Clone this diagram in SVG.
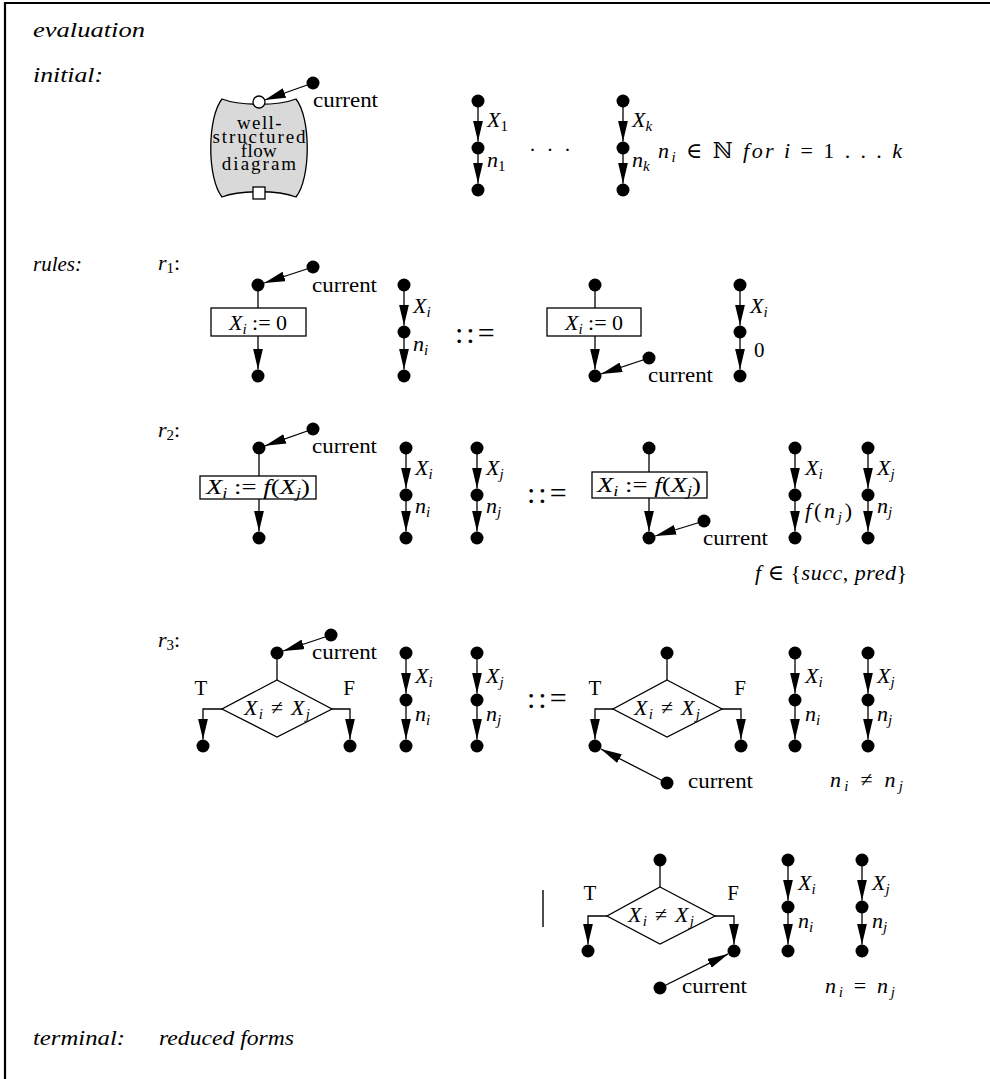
<svg xmlns="http://www.w3.org/2000/svg" width="990" height="1079" viewBox="0 0 990 1079">
<defs>
<style>
.m{font-family:"Liberation Serif","DejaVu Serif",serif;font-style:italic;font-size:22px;fill:#000}
.r{font-family:"Liberation Serif","DejaVu Serif",serif;font-size:21px;fill:#000}
.bl{font-family:"Liberation Serif","DejaVu Serif",serif;font-size:19px;fill:#000}
.eq{font-family:"Liberation Serif","DejaVu Serif",serif;font-size:30px;letter-spacing:3px;fill:#000}
.sb{font-size:15px}
.up{font-style:normal}
.ln{stroke:#000;stroke-width:1.3;fill:none}
.ar{stroke:#000;stroke-width:1.3;fill:none;marker-end:url(#ah)}
.dot{fill:#000}
.box{fill:#fff;stroke:#000;stroke-width:1.3}
</style>
<marker id="ah" viewBox="-21 -5 21 10" refX="0" refY="0" markerWidth="21" markerHeight="10" markerUnits="userSpaceOnUse" orient="auto"><path d="M0,0 L-21,-5 L-21,5 Z" fill="#000"/></marker>
</defs>
<rect width="990" height="1079" fill="#fff"/>
<path d="M5,1079 V3 H990" fill="none" stroke="#000" stroke-width="2.2"/>

<g id="labels">
<text class="m" x="33" y="37" textLength="112" lengthAdjust="spacingAndGlyphs">evaluation</text>
<text class="m" x="33" y="82" textLength="70" lengthAdjust="spacingAndGlyphs">initial:</text>
<text class="m" x="33" y="271" textLength="49" lengthAdjust="spacingAndGlyphs">rules:</text>
<text class="m" x="33" y="1045" textLength="92" lengthAdjust="spacingAndGlyphs">terminal:</text>
<text class="m" x="159" y="1045" textLength="135" lengthAdjust="spacingAndGlyphs">reduced forms</text>
<text class="m" x="158" y="270">r<tspan class="sb up" dy="3">1</tspan><tspan class="up" dy="-3">:</tspan></text>
<text class="m" x="158" y="437">r<tspan class="sb up" dy="3">2</tspan><tspan class="up" dy="-3">:</tspan></text>
<text class="m" x="158" y="647">r<tspan class="sb up" dy="3">3</tspan><tspan class="up" dy="-3">:</tspan></text>
</g>

<g id="connectors">
<line class="ar" x1="313" y1="83" x2="264.7" y2="100"/>
<line class="ar" x1="478" y1="101" x2="478" y2="141.5"/>
<line class="ar" x1="478" y1="148" x2="478" y2="183.5"/>
<line class="ar" x1="623" y1="101" x2="623" y2="141.5"/>
<line class="ar" x1="623" y1="148" x2="623" y2="183.5"/>
<line class="ar" x1="313" y1="267" x2="264.2" y2="283"/>
<line class="ln" x1="258" y1="285" x2="258" y2="308"/>
<line class="ar" x1="258" y1="336" x2="258" y2="369.5"/>
<line class="ar" x1="404" y1="285" x2="404" y2="325.5"/>
<line class="ar" x1="404" y1="332" x2="404" y2="369.5"/>
<line class="ln" x1="595" y1="285" x2="595" y2="308"/>
<line class="ar" x1="595" y1="336" x2="595" y2="369.5"/>
<line class="ar" x1="649" y1="358" x2="601.2" y2="373.9"/>
<line class="ar" x1="740" y1="285" x2="740" y2="325.5"/>
<line class="ar" x1="740" y1="332" x2="740" y2="369.5"/>
<line class="ar" x1="313" y1="429" x2="265.1" y2="445.8"/>
<line class="ln" x1="259" y1="448" x2="259" y2="476"/>
<line class="ar" x1="259" y1="499" x2="259" y2="531.5"/>
<line class="ar" x1="406" y1="448" x2="406" y2="488.5"/>
<line class="ar" x1="406" y1="495" x2="406" y2="531.5"/>
<line class="ar" x1="477" y1="448" x2="477" y2="488.5"/>
<line class="ar" x1="477" y1="495" x2="477" y2="531.5"/>
<line class="ln" x1="649" y1="448" x2="649" y2="472"/>
<line class="ar" x1="649" y1="498" x2="649" y2="531.5"/>
<line class="ar" x1="704" y1="521" x2="655.2" y2="536"/>
<line class="ar" x1="795" y1="448" x2="795" y2="488.5"/>
<line class="ar" x1="795" y1="495" x2="795" y2="531.5"/>
<line class="ar" x1="868" y1="448" x2="868" y2="488.5"/>
<line class="ar" x1="868" y1="495" x2="868" y2="531.5"/>
<line class="ar" x1="331" y1="635" x2="283.2" y2="651"/>
<line class="ln" x1="277" y1="653" x2="277" y2="680"/>
<polyline class="ar" points="222,709 203,709 203,739.5"/>
<polyline class="ar" points="332,709 350,709 350,739.5"/>
<line class="ar" x1="406" y1="653" x2="406" y2="693.5"/>
<line class="ar" x1="406" y1="700" x2="406" y2="739.5"/>
<line class="ar" x1="477" y1="653" x2="477" y2="693.5"/>
<line class="ar" x1="477" y1="700" x2="477" y2="739.5"/>
<line class="ln" x1="667" y1="653" x2="667" y2="680"/>
<polyline class="ar" points="613,709 595,709 595,739.5"/>
<polyline class="ar" points="722,709 741,709 741,739.5"/>
<line class="ar" x1="667" y1="783" x2="600.8" y2="749"/>
<line class="ar" x1="795" y1="653" x2="795" y2="693.5"/>
<line class="ar" x1="795" y1="700" x2="795" y2="739.5"/>
<line class="ar" x1="868" y1="653" x2="868" y2="693.5"/>
<line class="ar" x1="868" y1="700" x2="868" y2="739.5"/>
<line class="ln" x1="660" y1="860" x2="660" y2="887"/>
<polyline class="ar" points="607,916 588,916 588,944.5"/>
<polyline class="ar" points="715,916 734,916 734,944.5"/>
<line class="ar" x1="660" y1="988" x2="728.2" y2="953.9"/>
<line class="ar" x1="788" y1="860" x2="788" y2="900.5"/>
<line class="ar" x1="788" y1="907" x2="788" y2="944.5"/>
<line class="ar" x1="862" y1="860" x2="862" y2="900.5"/>
<line class="ar" x1="862" y1="907" x2="862" y2="944.5"/>
</g>

<g id="initial-diagram">
<path d="M222,99 C240,106 278,106 296,99 C311,118 311,178 296,197 C278,190 240,190 222,197 C207,178 207,118 222,99 Z" fill="#d9d9d9" stroke="#000" stroke-width="1.3"/>
<circle cx="259" cy="102" r="6" fill="#fff" stroke="#000" stroke-width="1.3"/>
<rect x="253" y="187" width="12" height="12" fill="#fff" stroke="#000" stroke-width="1.3"/>
<text class="bl" text-anchor="middle"><tspan x="260" y="129" letter-spacing="1.4">well-</tspan><tspan x="260" y="143" letter-spacing="1.9">structured</tspan><tspan x="259" y="157" letter-spacing="0.4">flow</tspan><tspan x="260" y="170" letter-spacing="2">diagram</tspan></text>
</g>
<g id="initial-current">
<circle class="dot" cx="313" cy="83" r="6.5"/>
<text class="r" x="313" y="107" textLength="65" lengthAdjust="spacingAndGlyphs">current</text>
</g>
<g id="initial-chains">
<circle class="dot" cx="478" cy="101" r="6.5"/><circle class="dot" cx="478" cy="148" r="6.5"/><circle class="dot" cx="478" cy="190" r="6.5"/>
<text class="m" x="487" y="127">X<tspan class="sb up" dy="4">1</tspan></text>
<text class="m" x="487" y="167">n<tspan class="sb up" dy="4">1</tspan></text>
<text class="r" x="529" y="157" font-size="26" textLength="42" lengthAdjust="spacing">· · ·</text>
<circle class="dot" cx="623" cy="101" r="6.5"/><circle class="dot" cx="623" cy="148" r="6.5"/><circle class="dot" cx="623" cy="190" r="6.5"/>
<text class="m" x="632" y="127">X<tspan class="sb" dy="4">k</tspan></text>
<text class="m" x="632" y="167">n<tspan class="sb" dy="4">k</tspan></text>
<text class="m" x="658" y="158" font-size="21" textLength="244" lengthAdjust="spacing">n<tspan class="sb" dy="4">i</tspan><tspan class="up" dy="-4">  ∈  ℕ  </tspan>for  i<tspan class="up">  =  1 . . . </tspan>k</text>
</g>

<g id="r1-left">
<circle class="dot" cx="258" cy="285" r="6.5"/>
<circle class="dot" cx="313" cy="267" r="6.5"/>
<text class="r" x="312" y="292" textLength="65" lengthAdjust="spacingAndGlyphs">current</text>
<rect class="box" x="211" y="308" width="95" height="28"/>
<text class="m" x="258" y="330" text-anchor="middle">X<tspan class="sb" dy="4">i</tspan><tspan class="up" dy="-4"> := 0</tspan></text>
<circle class="dot" cx="258" cy="376" r="6.5"/>
</g>
<g id="r1-left-chain">
<circle class="dot" cx="404" cy="285" r="6.5"/><circle class="dot" cx="404" cy="332" r="6.5"/><circle class="dot" cx="404" cy="376" r="6.5"/>
<text class="m" x="413" y="313">X<tspan class="sb" dy="4">i</tspan></text>
<text class="m" x="413" y="351">n<tspan class="sb" dy="4">i</tspan></text>
</g>
<text class="eq" x="455" y="343">::=</text>
<g id="r1-right">
<circle class="dot" cx="595" cy="285" r="6.5"/>
<rect class="box" x="547" y="308" width="94" height="28"/>
<text class="m" x="594" y="330" text-anchor="middle">X<tspan class="sb" dy="4">i</tspan><tspan class="up" dy="-4"> := 0</tspan></text>
<circle class="dot" cx="595" cy="376" r="6.5"/>
<circle class="dot" cx="649" cy="358" r="6.5"/>
<text class="r" x="648" y="382" textLength="65" lengthAdjust="spacingAndGlyphs">current</text>
</g>
<g id="r1-right-chain">
<circle class="dot" cx="740" cy="285" r="6.5"/><circle class="dot" cx="740" cy="332" r="6.5"/><circle class="dot" cx="740" cy="376" r="6.5"/>
<text class="m" x="750" y="313">X<tspan class="sb" dy="4">i</tspan></text>
<text class="r" x="754" y="357">0</text>
</g>

<g id="r2-left">
<circle class="dot" cx="259" cy="448" r="6.5"/>
<circle class="dot" cx="313" cy="429" r="6.5"/>
<text class="r" x="312" y="453" textLength="65" lengthAdjust="spacingAndGlyphs">current</text>
<rect class="box" x="200" y="476" width="116" height="23"/>
<text class="m" x="258" y="494" text-anchor="middle" textLength="104" lengthAdjust="spacingAndGlyphs">X<tspan class="sb" dy="4">i</tspan><tspan class="up" dy="-4"> := </tspan>f<tspan class="up">(</tspan>X<tspan class="sb" dy="4">j</tspan><tspan class="up" dy="-4">)</tspan></text>
<circle class="dot" cx="259" cy="538" r="6.5"/>
</g>
<g id="r2-left-chains">
<circle class="dot" cx="406" cy="448" r="6.5"/><circle class="dot" cx="406" cy="495" r="6.5"/><circle class="dot" cx="406" cy="538" r="6.5"/>
<text class="m" x="415" y="475">X<tspan class="sb" dy="4">i</tspan></text>
<text class="m" x="415" y="513">n<tspan class="sb" dy="4">i</tspan></text>
<circle class="dot" cx="477" cy="448" r="6.5"/><circle class="dot" cx="477" cy="495" r="6.5"/><circle class="dot" cx="477" cy="538" r="6.5"/>
<text class="m" x="486" y="475">X<tspan class="sb" dy="4">j</tspan></text>
<text class="m" x="486" y="513">n<tspan class="sb" dy="4">j</tspan></text>
</g>
<text class="eq" x="527" y="503">::=</text>
<g id="r2-right">
<circle class="dot" cx="649" cy="448" r="6.5"/>
<rect class="box" x="592" y="472" width="115" height="26"/>
<text class="m" x="649" y="492" text-anchor="middle" textLength="104" lengthAdjust="spacingAndGlyphs">X<tspan class="sb" dy="4">i</tspan><tspan class="up" dy="-4"> := </tspan>f<tspan class="up">(</tspan>X<tspan class="sb" dy="4">j</tspan><tspan class="up" dy="-4">)</tspan></text>
<circle class="dot" cx="649" cy="538" r="6.5"/>
<circle class="dot" cx="704" cy="521" r="6.5"/>
<text class="r" x="703" y="545" textLength="65" lengthAdjust="spacingAndGlyphs">current</text>
</g>
<g id="r2-right-chains">
<circle class="dot" cx="795" cy="448" r="6.5"/><circle class="dot" cx="795" cy="495" r="6.5"/><circle class="dot" cx="795" cy="538" r="6.5"/>
<text class="m" x="805" y="475">X<tspan class="sb" dy="4">i</tspan></text>
<text class="m" x="805" y="518" textLength="47" lengthAdjust="spacing">f<tspan class="up">(</tspan>n<tspan class="sb" dy="4">j</tspan><tspan class="up" dy="-4">)</tspan></text>
<circle class="dot" cx="868" cy="448" r="6.5"/><circle class="dot" cx="868" cy="495" r="6.5"/><circle class="dot" cx="868" cy="538" r="6.5"/>
<text class="m" x="877" y="475">X<tspan class="sb" dy="4">j</tspan></text>
<text class="m" x="877" y="513">n<tspan class="sb" dy="4">j</tspan></text>
<text class="m" x="755" y="580" textLength="152" lengthAdjust="spacing">f<tspan class="up"> ∈ {</tspan>succ<tspan class="up">, </tspan>pred<tspan class="up">}</tspan></text>
</g>

<g id="r3-left">
<circle class="dot" cx="277" cy="653" r="6.5"/>
<circle class="dot" cx="331" cy="635" r="6.5"/>
<text class="r" x="312" y="659" textLength="65" lengthAdjust="spacingAndGlyphs">current</text>
<polygon class="box" points="277,680 332,709 277,737 222,709"/>
<text class="m" x="277" y="715" text-anchor="middle" textLength="66" lengthAdjust="spacing">X<tspan class="sb" dy="4">i</tspan><tspan class="up" dy="-4"> ≠ </tspan>X<tspan class="sb" dy="4">j</tspan></text>
<text class="r" x="201" y="695" text-anchor="middle">T</text>
<text class="r" x="349" y="695" text-anchor="middle">F</text>
<circle class="dot" cx="203" cy="746" r="6.5"/>
<circle class="dot" cx="350" cy="746" r="6.5"/>
</g>
<g id="r3-left-chains">
<circle class="dot" cx="406" cy="653" r="6.5"/><circle class="dot" cx="406" cy="700" r="6.5"/><circle class="dot" cx="406" cy="746" r="6.5"/>
<text class="m" x="415" y="683">X<tspan class="sb" dy="4">i</tspan></text>
<text class="m" x="415" y="721">n<tspan class="sb" dy="4">i</tspan></text>
<circle class="dot" cx="477" cy="653" r="6.5"/><circle class="dot" cx="477" cy="700" r="6.5"/><circle class="dot" cx="477" cy="746" r="6.5"/>
<text class="m" x="486" y="683">X<tspan class="sb" dy="4">j</tspan></text>
<text class="m" x="486" y="721">n<tspan class="sb" dy="4">j</tspan></text>
</g>
<text class="eq" x="527" y="708">::=</text>
<g id="r3-right">
<circle class="dot" cx="667" cy="653" r="6.5"/>
<polygon class="box" points="667,680 722,709 667,737 613,709"/>
<text class="m" x="667" y="715" text-anchor="middle" textLength="66" lengthAdjust="spacing">X<tspan class="sb" dy="4">i</tspan><tspan class="up" dy="-4"> ≠ </tspan>X<tspan class="sb" dy="4">j</tspan></text>
<text class="r" x="595" y="695" text-anchor="middle">T</text>
<text class="r" x="740" y="695" text-anchor="middle">F</text>
<circle class="dot" cx="595" cy="746" r="6.5"/>
<circle class="dot" cx="741" cy="746" r="6.5"/>
<circle class="dot" cx="667" cy="783" r="6.5"/>
<text class="r" x="688" y="788" textLength="65" lengthAdjust="spacingAndGlyphs">current</text>
</g>
<g id="r3-right-chains">
<circle class="dot" cx="795" cy="653" r="6.5"/><circle class="dot" cx="795" cy="700" r="6.5"/><circle class="dot" cx="795" cy="746" r="6.5"/>
<text class="m" x="805" y="683">X<tspan class="sb" dy="4">i</tspan></text>
<text class="m" x="805" y="721">n<tspan class="sb" dy="4">i</tspan></text>
<circle class="dot" cx="868" cy="653" r="6.5"/><circle class="dot" cx="868" cy="700" r="6.5"/><circle class="dot" cx="868" cy="746" r="6.5"/>
<text class="m" x="877" y="683">X<tspan class="sb" dy="4">j</tspan></text>
<text class="m" x="877" y="721">n<tspan class="sb" dy="4">j</tspan></text>
<text class="m" x="830" y="787" textLength="73" lengthAdjust="spacing">n<tspan class="sb" dy="4">i</tspan><tspan class="up" dy="-4">  ≠  </tspan>n<tspan class="sb" dy="4">j</tspan></text>
</g>

<g id="alt">
<line x1="543" y1="890" x2="543" y2="927" stroke="#000" stroke-width="1.4"/>
<circle class="dot" cx="660" cy="860" r="6.5"/>
<polygon class="box" points="660,887 715,916 660,944 607,916"/>
<text class="m" x="661" y="922" text-anchor="middle" textLength="66" lengthAdjust="spacing">X<tspan class="sb" dy="4">i</tspan><tspan class="up" dy="-4"> ≠ </tspan>X<tspan class="sb" dy="4">j</tspan></text>
<text class="r" x="590" y="900" text-anchor="middle">T</text>
<text class="r" x="733" y="900" text-anchor="middle">F</text>
<circle class="dot" cx="588" cy="951" r="6.5"/>
<circle class="dot" cx="734" cy="951" r="6.5"/>
<circle class="dot" cx="660" cy="988" r="6.5"/>
<text class="r" x="682" y="993" textLength="65" lengthAdjust="spacingAndGlyphs">current</text>
</g>
<g id="alt-chains">
<circle class="dot" cx="788" cy="860" r="6.5"/><circle class="dot" cx="788" cy="907" r="6.5"/><circle class="dot" cx="788" cy="951" r="6.5"/>
<text class="m" x="798" y="890">X<tspan class="sb" dy="4">i</tspan></text>
<text class="m" x="798" y="928">n<tspan class="sb" dy="4">i</tspan></text>
<circle class="dot" cx="862" cy="860" r="6.5"/><circle class="dot" cx="862" cy="907" r="6.5"/><circle class="dot" cx="862" cy="951" r="6.5"/>
<text class="m" x="872" y="890">X<tspan class="sb" dy="4">j</tspan></text>
<text class="m" x="872" y="928">n<tspan class="sb" dy="4">j</tspan></text>
<text class="m" x="825" y="993" textLength="70" lengthAdjust="spacing">n<tspan class="sb" dy="4">i</tspan><tspan class="up" dy="-4">  =  </tspan>n<tspan class="sb" dy="4">j</tspan></text>
</g>
</svg>
